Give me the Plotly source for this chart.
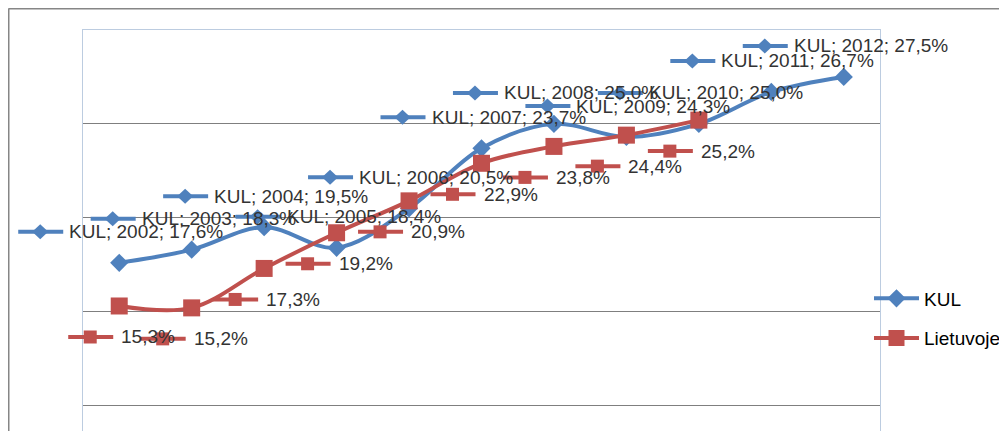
import plotly.graph_objects as go

years = [2002, 2003, 2004, 2005, 2006, 2007, 2008, 2009, 2010, 2011, 2012]
kul = [17.6, 18.3, 19.5, 18.4, 20.5, 23.7, 25.0, 24.3, 25.0, 26.7, 27.5]
lt_years = [2002, 2003, 2004, 2005, 2006, 2007, 2008, 2009, 2010]
lietuvoje = [15.3, 15.2, 17.3, 19.2, 20.9, 22.9, 23.8, 24.4, 25.2]

BLUE = "#4F81BD"
RED = "#C0504D"
TXT = "#333333"
FONT = "Liberation Sans"
FS = 19

# page has an 8px body margin; figure drawn from (8,8) of the window
OFF = 8
W, H = 1007 - OFF, 431 - OFF
L, R, T, B = 83 - OFF, 1007 - 880, 30 - OFF, 0
PW, PH = W - L - R, H - T - B

X_RANGE = [2001.5, 2012.5]
Y_TOP = 30
Y_BOT = 30 - PH / 18.775

fig = go.Figure()
fig.add_trace(go.Scatter(
    x=years, y=kul, name="KUL", mode="lines+markers",
    line=dict(color=BLUE, width=4, shape="spline", smoothing=1),
    marker=dict(symbol="diamond", size=14, color=BLUE),
    legendgroup="a"))
fig.add_trace(go.Scatter(
    x=lt_years, y=lietuvoje, name="Lietuvoje", mode="lines+markers",
    line=dict(color=RED, width=4, shape="spline", smoothing=1),
    marker=dict(symbol="square", size=17, color=RED),
    legendgroup="b"))

shapes = []
annotations = []


def fmt(v):
    return f"{v:.1f}".replace(".", ",") + "%"


def to_paper_x(xv):
    return (xv - X_RANGE[0]) / (X_RANGE[1] - X_RANGE[0])


def to_paper_y(yv):
    return (yv - Y_BOT) / (Y_TOP - Y_BOT)


def add_label(xv, yv, cx, cy, color, kind, text, tgap):
    # legend-key icon (line + marker), offsets in pixels from the point;
    # anchored in paper coords so it is not clipped by the plot area
    ax, ay = to_paper_x(xv), to_paper_y(yv)
    shapes.append(dict(type="line", xref="paper", yref="paper",
                       xsizemode="pixel", ysizemode="pixel",
                       xanchor=ax, yanchor=ay,
                       x0=cx - 22, x1=cx + 23, y0=cy, y1=cy,
                       line=dict(color=color, width=4), layer="above"))
    if kind == "diamond":
        p = (f"M{cx-8},{cy} L{cx},{cy+7.5} L{cx+8},{cy} L{cx},{cy-7.5} Z")
    else:
        p = (f"M{cx-6.5},{cy-6.5} L{cx+6.5},{cy-6.5} L{cx+6.5},{cy+6.5} "
             f"L{cx-6.5},{cy+6.5} Z")
    shapes.append(dict(type="path", xref="paper", yref="paper",
                       xsizemode="pixel", ysizemode="pixel",
                       xanchor=ax, yanchor=ay, path=p,
                       fillcolor=color, line=dict(color=color, width=0),
                       layer="above"))
    annotations.append(dict(x=xv, y=yv, xref="x", yref="y", text=text,
                            showarrow=False, xanchor="left", yanchor="middle",
                            xshift=cx + tgap, yshift=cy,
                            font=dict(family=FONT, size=FS, color=TXT)))


for yr, v in zip(years, kul):
    add_label(yr, v, -79, 31, BLUE, "diamond", f"KUL; {yr}; {fmt(v)}", 27)
for yr, v in zip(lt_years, lietuvoje):
    add_label(yr, v, -29, -31, RED, "square", fmt(v), 29)


# screen -> paper coordinates
def px(sx):
    return (sx - OFF - L) / PW


def py(sy):
    return (H - B - (sy - OFF)) / PH


# outer chart-area border (top and left visible)
shapes.append(dict(type="line", xref="paper", yref="paper",
                   x0=px(8.5), x1=px(1030), y0=py(8.5), y1=py(8.5),
                   line=dict(color="#868686", width=2), layer="below"))
shapes.append(dict(type="line", xref="paper", yref="paper",
                   x0=px(8.5), x1=px(8.5), y0=py(8.5), y1=py(460),
                   line=dict(color="#868686", width=2), layer="below"))

fig.update_layout(
    width=W, height=H,
    margin=dict(l=L, r=R, t=T, b=B, pad=0),
    paper_bgcolor="white", plot_bgcolor="white",
    font=dict(family=FONT, size=FS, color=TXT),
    xaxis=dict(range=X_RANGE, showticklabels=False, ticks="",
               showgrid=False, zeroline=False, showline=True, mirror=True,
               linecolor="#BCCCE0", linewidth=1),
    yaxis=dict(range=[Y_BOT, Y_TOP], showticklabels=False, ticks="",
               dtick=5, tick0=0, showgrid=True, gridcolor="#7F7F7F",
               gridwidth=1.3, zeroline=False, showline=True, mirror=True,
               linecolor="#BCCCE0", linewidth=1),
    showlegend=True,
    legend=dict(x=px(869), xanchor="left", y=py(318.5), yanchor="middle",
                bgcolor="rgba(0,0,0,0)", tracegroupgap=12, itemwidth=45,
                font=dict(family=FONT, size=FS, color="#000000")),
    shapes=shapes, annotations=annotations,
)

fig.write_html("out.html")
